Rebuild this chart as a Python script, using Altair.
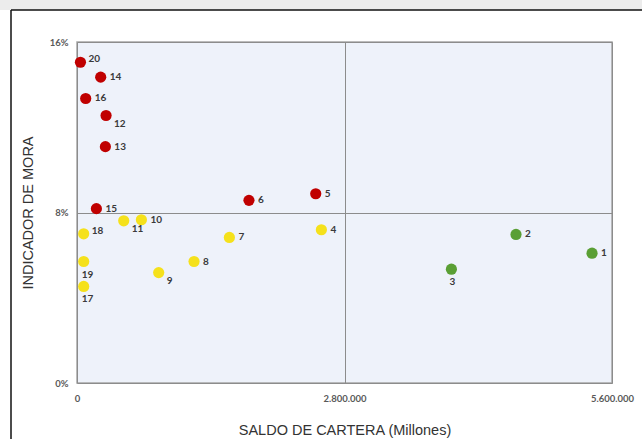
import altair as alt
import pandas as pd

# Entity number, portfolio balance (millions) and delinquency ratio
ids = [1, 2, 3, 4, 5, 6, 7, 8, 9, 10, 11, 12, 13, 14, 15, 16, 17, 18, 19, 20]
saldo = [5391000, 4595000, 3919000, 2558000, 2499000, 1800000, 1595000, 1225000,
         855000, 674000, 489000, 304000, 297000, 248000, 203000, 91000, 70000,
         70000, 70000, 36000]
mora = [0.0609, 0.0697, 0.0534, 0.0719, 0.0888, 0.0857, 0.0683, 0.0570,
        0.0518, 0.0766, 0.0761, 0.1255, 0.1109, 0.1435, 0.0818, 0.1335, 0.0453,
        0.0700, 0.0570, 0.1505]
grupo = ["verde", "verde", "verde", "amarillo", "rojo", "rojo", "amarillo",
         "amarillo", "amarillo", "amarillo", "amarillo", "rojo", "rojo", "rojo",
         "rojo", "rojo", "amarillo", "amarillo", "amarillo", "rojo"]

x_ticks = [0, 2800000, 5600000]
y_ticks = [0, 0.08, 0.16]

df = pd.DataFrame({"id": ids, "saldo": saldo, "mora": mora, "grupo": grupo})

W, H = 535, 341

x_enc = alt.X("saldo:Q", scale=alt.Scale(domain=[0, 5600000], nice=False),
              title="SALDO DE CARTERA (Millones)",
              axis=alt.Axis(values=x_ticks, grid=True, ticks=False, domain=False,
                            labelExpr="replace(replace(format(datum.value, ','), ',', '.'), ',', '.')",
                            labelFlush=False, labelPadding=10, labelFont="Lato",
                            labelFontSize=9.5, labelFontWeight="bold", labelColor="#595959",
                            titleFont="Liberation Sans", titleFontSize=14.5,
                            titleFontWeight="normal", titleColor="#333333",
                            titleX=W / 2, titleY=47, titleBaseline="middle",
                            gridColor="#8c8c8c", gridWidth=1))
y_enc = alt.Y("mora:Q", scale=alt.Scale(domain=[0, 0.16], nice=False),
              title="INDICADOR DE MORA",
              axis=alt.Axis(values=y_ticks, format=".0%", grid=True, ticks=False,
                            domain=False, labelFlush=False, labelPadding=9,
                            labelFont="Lato", labelFontSize=9.5, labelFontWeight="bold",
                            labelColor="#595959", labelBaseline="middle",
                            titleFont="Liberation Sans", titleFontSize=14.5,
                            titleFontWeight="normal", titleColor="#333333",
                            titleAngle=-90, titleX=-49, titleY=H / 2,
                            titleAlign="center", titleBaseline="middle",
                            gridColor="#8c8c8c", gridWidth=1))

color = alt.Color("grupo:N",
                  scale=alt.Scale(domain=["rojo", "amarillo", "verde"],
                                  range=["#c00000", "#f5e11b", "#5a9f34"]),
                  legend=None)

base = alt.Chart(df)

puntos = base.mark_circle(size=125, opacity=1).encode(x=x_enc, y=y_enc, color=color)

# label placement around each dot
arriba = [20, 18]
abajo_der = [12, 11, 9]
abajo = [19, 17, 3]
otros = arriba + abajo_der + abajo


def etiquetas(filtro, dx, dy):
    return base.transform_filter(filtro).mark_text(
        dx=dx, dy=dy, align="left", baseline="middle", font="Lato",
        fontSize=10, fontWeight="bold", color="#3a3a3a"
    ).encode(x="saldo:Q", y="mora:Q", text="id:Q")


t_der = etiquetas(~alt.FieldOneOfPredicate(field="id", oneOf=otros), 9, 0)
t_arr = etiquetas(alt.FieldOneOfPredicate(field="id", oneOf=arriba), 8, -3)
t_abd = etiquetas(alt.FieldOneOfPredicate(field="id", oneOf=abajo_der), 8, 8)
t_abj = etiquetas(alt.FieldOneOfPredicate(field="id", oneOf=abajo), -2, 13)

# surrounding frame and page band
uno = alt.Data(values=[{}])
banda = alt.Chart(uno).mark_rect(color="#ececec").encode(
    x=alt.value(-80), x2=alt.value(600), y=alt.value(-50), y2=alt.value(-32))
marco_sup = alt.Chart(uno).mark_rule(color="#111111", strokeWidth=1.5).encode(
    x=alt.value(-66), x2=alt.value(600), y=alt.value(-32))
marco_izq = alt.Chart(uno).mark_rule(color="#111111", strokeWidth=1.5).encode(
    x=alt.value(-66), y=alt.value(-32), y2=alt.value(420))

chart = alt.layer(banda, marco_sup, marco_izq, puntos, t_der, t_arr, t_abd, t_abj).properties(
    width=W, height=H,
    padding={"left": 77, "top": 42, "right": 30, "bottom": 56},
    autosize=alt.AutoSizeParams(type="none"),
    background="white",
).configure_view(fill="#eef2fa", stroke="#a6a6a6", strokeWidth=1.5)

chart.save("out.html", embed_options={"renderer": "svg", "actions": False})
